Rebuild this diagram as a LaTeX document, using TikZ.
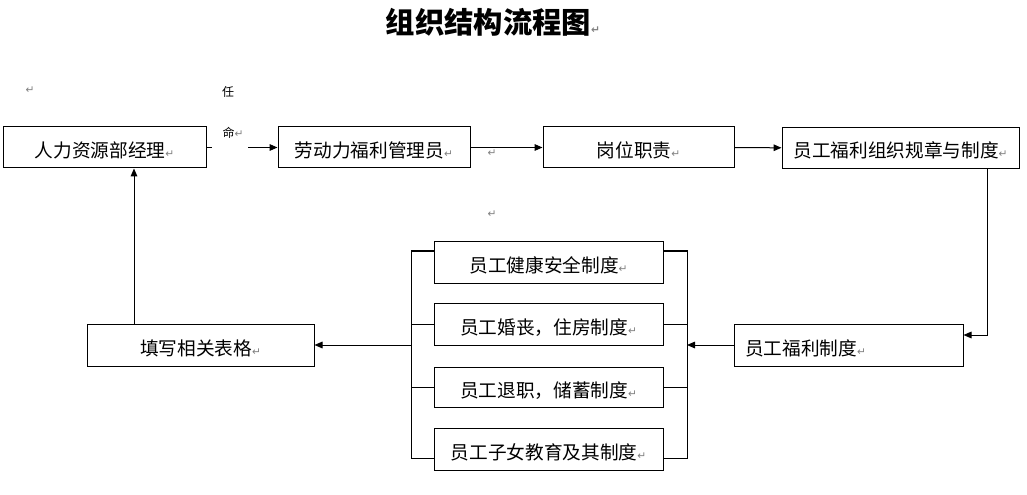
\documentclass[tikz,border=0pt]{standalone}
\usepackage{fontspec}
\setmainfont{Noto Sans CJK SC}
\newfontfamily\markfont{DejaVu Sans}
\usetikzlibrary{arrows.meta}
\newcommand{\pmk}{{\markfont\fontsize{8}{8}\selectfont\textcolor{gray}{↵}}}

\begin{document}
\begin{tikzpicture}[
		x=0.75pt, y=-0.75pt,
		line width=0.75pt,
		every node/.style={font=\fontsize{14}{16}\selectfont},
		box/.style={draw, inner sep=0pt, minimum height=30.75pt, text height=15pt, text depth=0pt},
		arr/.style={-{Triangle[length=6pt,width=5pt]}},
		note/.style={font=\fontsize{9}{10}\selectfont, inner sep=0pt}
		]
		\useasboundingbox (0,0) rectangle (1027,495);
		
		\node[font=\fontsize{22}{24}\selectfont\bfseries] (title) at (493,22) {组织结构流程图\pmk};
		
		\node[box, minimum width=152.25pt] (hr) at (104.5,147.5) {人力资源部经理\pmk};
		\node[box, minimum width=144pt] (labor) at (374,147.5) {劳动力福利管理员\pmk};
		\node[box, minimum width=143.25pt] (duty) at (638.5,147.5) {岗位职责\pmk};
		\node[box, minimum width=177.75pt] (rules) at (900.5,148) {员工福利组织规章与制度\pmk};
		\node[box, minimum width=171.75pt, minimum height=31.5pt, inner xsep=8.25pt,
			text width=155.25pt, align=left] (welfare) at (848.5,345) {员工福利制度\pmk};
		\node[box, minimum width=170.25pt, minimum height=31.5pt] (forms) at (200.5,345) {填写相关表格\pmk};
		
		\node[box, minimum width=171.75pt] (health) at (548.5,262.5) {员工健康安全制度\pmk};
		\node[box, minimum width=171.75pt, minimum height=31.5pt] (marriage) at (548.5,324) {员工婚丧，住房制度\pmk};
		\node[box, minimum width=171.75pt, minimum height=30pt] (retire) at (548.5,387) {员工退职，储蓄制度\pmk};
		\node[box, minimum width=171.75pt, minimum height=31.5pt] (child) at (548.5,449) {员工子女教育及其制度\pmk};
		
		\node[note] (ren) at (228,92) {任};
		\node[note, anchor=west] (ming) at (222,133) {命\pmk};
		\node[inner sep=0pt] (m1) at (30,90) {\pmk};
		\node[inner sep=0pt] (m2) at (492,153) {\pmk};
		\node[inner sep=0pt] (m3) at (492,214) {\pmk};
		
		% top row
		\coordinate (gapL) at (212,147.5);
		\coordinate (gapR) at (248,147.5);
		\draw (hr.east) -- (gapL);
		\draw[arr] (gapR) -- (labor.west);
		\draw[arr] (labor) -- (duty);
		\draw[arr] (duty) -- (rules);
		\coordinate (turn) at (987,335);
		\draw[arr] (rules.south -| turn) -- (turn) -- (welfare.east |- turn);
		
		% brackets round the four rules
		\coordinate (ltop) at (411,251);
		\coordinate (lbot) at (411,458);
		\coordinate (rtop) at (687,251);
		\coordinate (rbot) at (687,458);
		\draw (health.west |- ltop) -- (ltop) -- (lbot) -- (child.west |- lbot);
		\draw (health.east |- rtop) -- (rtop) -- (rbot) -- (child.east |- rbot);
		\draw (marriage.west) -- (marriage.west -| ltop);
		\draw (retire.west) -- (retire.west -| ltop);
		\draw (marriage.east) -- (marriage.east -| rtop);
		\draw (retire.east) -- (retire.east -| rtop);
		\draw[arr] (welfare.west) -- (welfare.west -| rtop);
		\draw[arr] (forms.east -| ltop) -- (forms.east);
		
		\coordinate (up) at (134,345);
		\draw[arr] (forms.north -| up) -- (hr.south -| up);
\end{tikzpicture}
\end{document}
